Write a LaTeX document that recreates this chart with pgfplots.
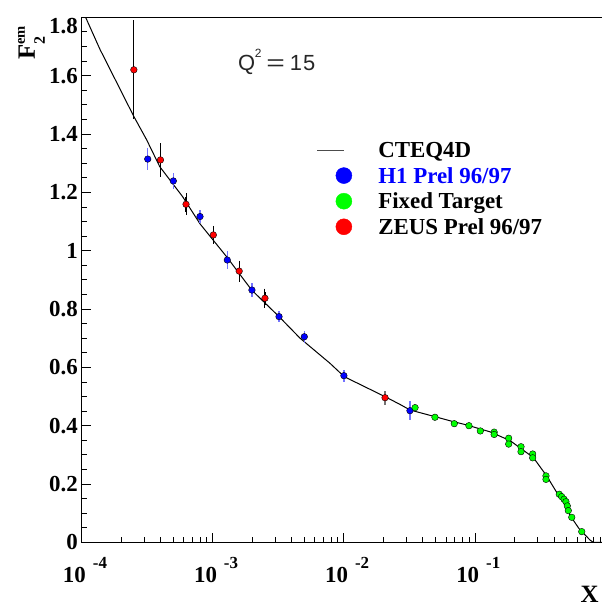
\documentclass[border=0pt]{standalone}
\usepackage{pgfplots}
\usepackage{pgfplotstable}
\usepackage{graphicx}
\pgfplotsset{compat=1.18}
\usepackage{fontspec}
\setmainfont{Liberation Serif}
\newfontfamily\helv{Liberation Sans}

% CTEQ4D curve
\pgfplotstableread{
x y
1.0e-4 1.830
1.379e-4 1.690
2.506e-4 1.459
3.13e-4 1.380
3.94e-4 1.288
5.89e-4 1.185
7.99e-4 1.092
1.276e-3 0.979
1.98e-3 0.865
3.2e-3 0.774
4.63e-3 0.700
7.83e-3 0.614
1.007e-2 0.568
2.06e-2 0.4995
2.68e-2 0.473
3.19e-2 0.454
4.95e-2 0.431
6.44e-2 0.417
8.65e-2 0.4025
0.1302 0.379
0.185 0.349
0.2785 0.291
0.352 0.228
0.445 0.153
0.5 0.122
0.53 0.093
0.62 0.048
0.754 0.008
0.80 0.0
0.98 0.0
}\cteq

% H1 Prel 96/97
\pgfplotstableread{
x y e
3.19e-4 1.314 0.038
5.0e-4 1.239 0.027
7.99e-4 1.117 0.023
1.29e-3 0.968 0.030
1.99e-3 0.865 0.023
3.2e-3 0.774 0.019
4.99e-3 0.705 0.020
1.0e-2 0.5715 0.020
3.19e-2 0.4515 0.033
}\hone

% Fixed Target
\pgfplotstableread{
x y
3.49e-2 0.462
4.95e-2 0.429
6.95e-2 0.407
8.99e-2 0.400
0.1098 0.382
0.140 0.378
0.140 0.370
0.1807 0.357
0.1807 0.337
0.2244 0.328
0.2244 0.311
0.2754 0.303
0.2754 0.290
0.348 0.228
0.348 0.216
0.4395 0.165
0.458 0.157
0.478 0.148
0.494 0.1395
0.506 0.125
0.515 0.109
0.547 0.086
0.652 0.037
}\fixed

% ZEUS Prel 96/97
\pgfplotstableread{
x y stat tot
2.5e-4 1.620 0.086 0.170
3.99e-4 1.311 0.021 0.058
6.25e-4 1.159 0.024 0.026
1.01e-3 1.054 0.018 0.020
1.59e-3 0.930 0.023 0.025
2.5e-3 0.837 0.020 0.022
}\zeus
\pgfplotstableread{
x y e
2.06e-2 0.496 0.024
}\zeusb

\newcommand{\xlab}[1]{10\hspace{7bp}\raisebox{14.5bp}{\fontsize{17}{17}\selectfont #1}}

\begin{document}
\begin{tikzpicture}
\begin{axis}[
    at={(0,0)}, anchor=south west,
    scale only axis, width=523bp, height=525.1bp,
    xmode=log, xmin=1e-4, xmax=0.9757,
    ymin=0, ymax=1.8,
    clip mode=individual,
    axis line style={line width=1.5bp},
    tick pos=left, tick align=inside,
    major tick length=9bp, minor tick length=5bp,
    every tick/.style={black, line width=0.8bp},
    xtick={1e-4,1e-3,1e-2,1e-1},
    minor xtick={2e-4,3e-4,4e-4,5e-4,6e-4,7e-4,8e-4,9e-4,
                 2e-3,3e-3,4e-3,5e-3,6e-3,7e-3,8e-3,9e-3,
                 2e-2,3e-2,4e-2,5e-2,6e-2,7e-2,8e-2,9e-2,
                 0.2,0.3,0.4,0.5,0.6,0.7,0.8,0.9},
    xticklabels={\xlab{-4},\xlab{-3},\xlab{-2},\xlab{-1}},
    xticklabel style={anchor=north, inner sep=0pt, yshift=-14.6bp, xshift=3.3bp},
    ytick={0,0.2,0.4,0.6,0.8,1,1.2,1.4,1.6},
    minor ytick={0,0.05,...,1.8},
    extra y ticks={1.8},
    extra y tick style={yticklabel style={yshift=-9bp}},
    yticklabel style={anchor=east, inner sep=0pt, xshift=-3.7bp},
    /pgf/number format/assume math mode=true,
    tick label style={font=\fontsize{23}{23}\selectfont\bfseries},
    xlabel={\raisebox{0pt}[\height][0pt]{\fontsize{25}{25}\selectfont\bfseries X}},
    xlabel style={at={(axis description cs:0.971,-0.1154)}, anchor=base, inner sep=0pt},
    legend style={draw=none, fill=none, at={(axis description cs:0.4493,0.7717)}, anchor=north west,
        inner sep=0pt, outer sep=0pt, row sep=0pt,
        font=\fontsize{23}{23}\selectfont\bfseries,
        nodes={inner sep=0pt, text height=20.4bp, text depth=5.2bp},
        cells={anchor=west},
        /tikz/every odd column/.append style={column sep=25.8bp},
        /tikz/every even column/.append style={column sep=0pt}},
]
\addplot[black, line width=1bp, no marks,
    legend image code/.code={\draw[black!70, line width=0.8bp] (0,0) -- (26.6bp,0); \fill[white, opacity=0] (34.8bp,0) circle (0.1bp);}]
    table[x=x, y=y] {\cteq};
\addlegendentry{CTEQ4D}

\addplot[forget plot, only marks, mark=none, error bars/.cd, y dir=both, y explicit,
    error bar style={blue!55, line width=1.3bp}, error mark=none]
    table[x=x, y=y, y error=e] {\hone};
\addplot[only marks, mark=*, mark size=3.3bp, mark options={draw=none, fill=blue},
    legend image code/.code={\fill[blue] (26.8bp,0) circle (8bp);}]
    table[x=x, y=y] {\hone};
\addlegendentry{\textcolor{blue}{H1 Prel 96/97}}

\addplot[only marks, mark=*, mark size=3.3bp, mark options={draw=none, fill=green},
    legend image code/.code={\fill[green] (26.8bp,0) circle (8bp);}]
    table[x=x, y=y] {\fixed};
\addlegendentry{Fixed Target}

\addplot[forget plot, only marks, mark=none, error bars/.cd, y dir=both, y explicit,
    error bar style={black, line width=1.2bp}, error mark=none]
    table[x=x, y=y, y error=tot] {\zeus};
\addplot[forget plot, only marks, mark=none, error bars/.cd, y dir=both, y explicit,
    error bar style={black, line width=1.2bp}, error mark=-,
    error mark options={black, mark size=3.8bp, line width=1bp}]
    table[x=x, y=y, y error=stat] {\zeus};
\addplot[forget plot, only marks, mark=none, error bars/.cd, y dir=both, y explicit,
    error bar style={black!55, line width=1.3bp}, error mark=none]
    table[x=x, y=y, y error=e] {\zeusb};
\addplot[forget plot, only marks, mark=*, mark size=3.3bp, mark options={draw=none, fill=red}]
    table[x=x, y=y] {\zeusb};
\addplot[only marks, mark=*, mark size=3.3bp, mark options={draw=none, fill=red},
    legend image code/.code={\fill[red] (26.8bp,0) circle (8bp);}]
    table[x=x, y=y] {\zeus};
\addlegendentry{ZEUS Prel 96/97}

\node[anchor=base west, inner sep=0pt, rotate=90, font=\fontsize{25}{25}\selectfont\bfseries]
    at (axis description cs:-0.0893,0.9187)
    {F\rlap{\raisebox{-10bp}{\fontsize{16}{16}\selectfont 2}}\raisebox{10bp}{\fontsize{14.6}{14.6}\selectfont em}};
\node[anchor=base west, inner sep=0pt, text=black!85, font=\helv\fontsize{22}{22}\selectfont]
    at (axis description cs:0.2989,0.8992)
    {Q\hspace{-0.5bp}\raisebox{12.5bp}{\fontsize{12}{12}\selectfont 2}\hspace{5bp}\scalebox{1.45}[1]{=}\hspace{5bp}1\hspace{1bp}5};
\end{axis}
\pgfresetboundingbox
\path[use as bounding box] (-81.7bp,-64.6bp) rectangle (520.3bp,542.4bp);
\end{tikzpicture}
\end{document}
